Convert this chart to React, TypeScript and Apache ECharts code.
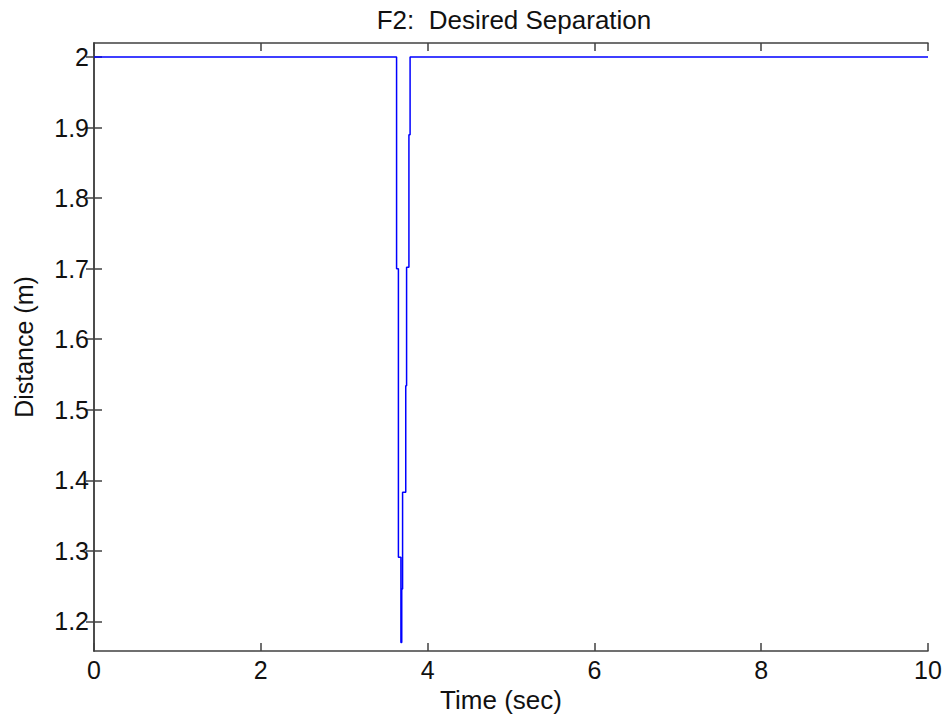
import React, { useEffect, useRef } from "react";
import * as echarts from "echarts";

const titleText = "F2:  Desired Separation";
const xName = "Time (sec)";
const yName = "Distance (m)";

const timeSec = [0, 3.628, 3.628, 3.65, 3.65, 3.68, 3.68, 3.69, 3.69, 3.7, 3.7, 3.738, 3.738, 3.748, 3.748, 3.776, 3.776, 3.79, 3.79, 10];
const distanceM = [2, 2, 1.7, 1.7, 1.291, 1.291, 1.17, 1.17, 1.246, 1.246, 1.383, 1.383, 1.534, 1.534, 1.702, 1.702, 1.89, 1.89, 2, 2];

const xTicks = [0, 2, 4, 6, 8, 10];
const yTicks = [1.2, 1.3, 1.4, 1.5, 1.6, 1.7, 1.8, 1.9, 2.0];
const xRange = [0, 10];
const yRange = [1.158, 2.02];

const FONT = "Liberation Sans, Arial, sans-serif";
const FS = 25;

export default function App() {
  const ref = useRef<HTMLDivElement>(null);
  useEffect(() => {
    if (!ref.current) return;
    const chart = echarts.init(ref.current, undefined, { renderer: "svg" });
    const axisLine = { show: true, lineStyle: { color: "#404040", width: 1.5 } };
    const tickStyle = { color: "#404040", width: 1.5 };
    const fmt = (v: number) => String(Math.round(v * 10) / 10);
    chart.setOption({
      animation: false,
      backgroundColor: "#ffffff",
      title: {
        text: titleText,
        left: 509,
        textAlign: "center",
        top: 2,
        textStyle: { fontFamily: FONT, fontSize: 26, fontWeight: "normal", color: "#111" },
      },
      grid: { left: 94, right: 20, top: 43, bottom: 70, containLabel: false },
      xAxis: [
        {
          type: "value",
          min: xRange[0],
          max: xRange[1],
          interval: 2,
          name: xName,
          nameLocation: "middle",
          nameGap: 35,
          nameTextStyle: { fontFamily: FONT, fontSize: 26, color: "#111", padding: [0, 20, 0, 0] },
          axisLine,
          splitLine: { show: false },
          axisTick: { show: true, inside: true, length: 8, customValues: xTicks, lineStyle: tickStyle },
          axisLabel: { customValues: xTicks, fontFamily: FONT, fontSize: FS, color: "#111", margin: 6 },
        },
        {
          type: "value",
          position: "top",
          min: xRange[0],
          max: xRange[1],
          interval: 2,
          axisLine,
          splitLine: { show: false },
          axisTick: { show: true, inside: true, length: 8, customValues: xTicks, lineStyle: tickStyle },
          axisLabel: { show: false },
        },
      ],
      yAxis: [
        {
          type: "value",
          min: yRange[0],
          max: yRange[1],
          name: yName,
          nameLocation: "middle",
          nameGap: 58,
          nameTextStyle: { fontFamily: FONT, fontSize: FS, color: "#111" },
          axisLine,
          splitLine: { show: false },
          axisTick: { show: true, inside: true, length: 8, customValues: yTicks, lineStyle: tickStyle },
          axisLabel: { customValues: yTicks, formatter: fmt, fontFamily: FONT, fontSize: FS, color: "#111", margin: 5 },
        },
        {
          type: "value",
          position: "right",
          min: yRange[0],
          max: yRange[1],
          axisLine,
          splitLine: { show: false },
          axisTick: { show: true, inside: true, length: 8, customValues: yTicks, lineStyle: tickStyle },
          axisLabel: { show: false },
        },
      ],
      series: [
        {
          type: "line",
          xAxisIndex: 0,
          yAxisIndex: 0,
          showSymbol: false,
          symbol: "none",
          lineStyle: { color: "#0000ff", width: 1.5 },
          data: timeSec.map((t, i) => [t, distanceM[i]]),
        },
      ],
    });
    return () => chart.dispose();
  }, []);
  return <div ref={ref} style={{ width: 948, height: 721, position: "absolute", left: 0, top: 0 }} />;
}
